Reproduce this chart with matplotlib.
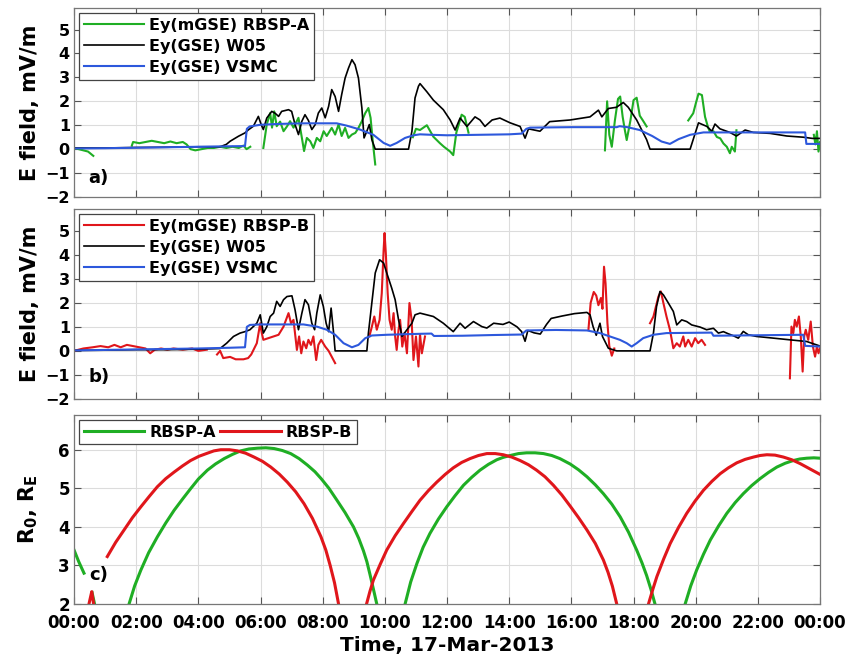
import numpy as np
import matplotlib
matplotlib.use("Agg")
import matplotlib.pyplot as plt

nan = np.nan

# ---- hours of 17-Mar-2013, tick labels
hour_ticks = list(range(0, 25, 2))
hour_labels = ['00:00', '02:00', '04:00', '06:00', '08:00', '10:00', '12:00',
               '14:00', '16:00', '18:00', '20:00', '22:00', '00:00']

# ---- panel a: RBSP-A Ey(mGSE)
a_rbsp_t = [0, 0.15, 0.3, 0.45, 0.62, nan,
            1.86, 1.9, 2.1, 2.3, 2.5, 2.7, 2.9, 3.1, 3.3, 3.5, 3.62, 3.75, 3.9, 4.1, 4.3, 4.5,
            4.7, 4.9, 5.1, 5.3, 5.45, 5.55, 5.67, nan,
            6.09, 6.2, 6.31, 6.37, 6.44, 6.52, 6.63, 6.74, 6.85, 6.95, 7.06, 7.22, 7.33, 7.4,
            7.49, 7.6, 7.7, 7.81, 7.92, 8.03, 8.13, 8.29, 8.4, 8.51, 8.61, 8.72, 8.83, 8.94,
            9.05, 9.15, 9.26, 9.37, 9.47, 9.54, 9.61, 9.69, nan,
            10.9, 11.0, 11.13, 11.35, 11.56, 11.77, 11.9, 12.0, 12.1, 12.2, 12.3, 12.47, 12.57,
            12.69, nan,
            17.08, 17.15, 17.22, 17.3, 17.4, 17.5, 17.57, 17.65, 17.72, 17.78, 17.9, 18.0, 18.1,
            18.2, 18.3, 18.42, nan,
            19.76, 19.92, 20.0, 20.09, 20.2, 20.3, 20.4, 20.46, 20.57, 20.68, 20.79, 20.89, 21.0,
            21.1, 21.16, 21.26, 21.31, nan,
            23.8, 23.85, 23.9, 23.95, 24.0]
a_rbsp_v = [0.05, 0.0, -0.05, -0.1, -0.28, nan,
            0.15, 0.3, 0.25, 0.3, 0.35, 0.3, 0.25, 0.32, 0.25, 0.3, 0.2, 0.0, -0.05, 0.0, 0.05, 0.05,
            0.1, 0.05, 0.1, 0.05, 0.15, 0.0, 0.1, nan,
            0.05, 1.03, 1.51, 0.9, 1.58, 0.96, 1.15, 0.75, 0.95, 1.17, 0.9, 1.31, 0.47, -0.08,
            0.47, 0.33, 0.05, 0.47, 0.33, 0.75, 0.55, 0.89, 0.61, 1.03, 0.55, 0.89, 0.47, 0.61,
            0.68, 0.89, 1.17, 1.51, 1.72, 1.31, 0.33, -0.64, nan,
            0.5, 0.85, 0.8, 1.0, 0.52, 0.25, 0.1, 0.0, -0.1, -0.25, 0.7, 1.44, 1.35,
            0.69, nan,
            -0.05, 2.0, 0.6, 0.1, 1.2, 2.1, 2.2, 1.35, 0.8, 0.38, 1.2, 2.05, 2.15,
            1.4, 1.2, 0.95, nan,
            1.2, 1.5, 1.9, 2.32, 2.26, 1.35, 0.9, 0.72, 0.75, 0.51, 0.45, 0.24, 0.1,
            -0.17, 0.1, -0.1, 0.79, nan,
            0.6, 0.2, 0.75, -0.1, 0.3]

# ---- panel a: W05 model
a_w05_t = [0, 1, 2, 3, 4, 4.7, 4.9, 5.02, 5.29, 5.5, 5.6, 5.77, 5.93, 6.02, 6.09, 6.2, 6.36,
           6.47, 6.58, 6.68, 6.9, 7.0, 7.11, 7.22, 7.33, 7.43, 7.54, 7.65, 7.76, 7.86, 7.97,
           8.08, 8.19, 8.29, 8.4, 8.51, 8.61, 8.72, 8.83, 8.94, 9.04, 9.15, 9.26, 9.33, 9.42,
           9.5, 9.58, 9.69, 10.76, 10.87, 10.97, 11.08, 11.13, 11.35, 11.56, 11.88, 12.1,
           12.26, 12.42, 12.64, 12.9, 13.06, 13.22, 13.45, 13.7, 14.03, 14.35, 14.51, 14.62,
           14.99, 15.3, 15.96, 16.6, 16.87, 16.98, 17.19, 17.45, 17.67, 17.83, 18.1, 18.42,
           18.53, 19.82, 20.09, 20.36, 20.52, 20.62, 20.78, 21.1, 21.31, 21.59, 21.85, 22.39,
           22.93, 23.46, 23.75, 24.0]
a_w05_v = [0.05, 0.05, 0.07, 0.08, 0.1, 0.1, 0.2, 0.33, 0.54, 0.68, 0.8, 0.96, 1.37, 1.03, 0.82,
           1.3, 1.58, 1.5, 1.37, 1.58, 1.65, 1.58, 1.03, 0.61, 1.17, 1.44, 1.2, 0.82, 1.03, 1.51,
           1.72, 1.31, 1.79, 2.49, 2.2, 1.58, 2.28, 2.97, 3.39, 3.74, 3.53, 2.97, 1.72, 0.47,
           0.75, 1.03, 0.4, 0.0, 0.0, 0.75, 2.14, 2.63, 2.74, 2.4, 2.05, 1.65, 1.22,
           0.8, 1.3, 0.95, 1.35, 1.22, 0.95, 1.22, 1.3, 1.1, 0.95, 0.46, 0.85,
           0.75, 1.15, 1.22, 1.35, 1.63, 1.35, 1.7, 1.75, 1.95, 1.75, 1.22, 0.4,
           0.0, 0.0, 1.1, 0.95, 0.75, 1.05, 0.85, 0.7, 0.55, 0.8, 0.7, 0.66,
           0.55, 0.5, 0.45, 0.45]

# ---- panel a: VSMC model
a_vsmc_t = [0, 1, 2, 3, 4, 5, 5.5, 5.56, 5.65, 6.0, 6.5, 7.0, 7.5, 8.0, 8.45, 8.78, 9.2, 9.63,
            9.96, 10.17, 10.38, 10.65, 10.92, 11.13, 11.5, 12.0, 13.0, 14.0, 14.4, 14.55, 14.67,
            16.0, 17.46, 17.55, 17.8, 18.2, 18.6, 18.9, 19.17, 19.45, 19.82, 20.25, 21.0, 22.0,
            23.0, 23.52, 23.56, 24.0]
a_vsmc_v = [0.03, 0.04, 0.06, 0.08, 0.1, 0.12, 0.13, 0.85, 0.95, 1.02, 1.05, 1.07, 1.08, 1.08,
            1.08, 0.98, 0.82, 0.6, 0.26, 0.14, 0.26, 0.47, 0.58, 0.62, 0.6, 0.58, 0.6, 0.62, 0.65,
            0.85, 0.9, 0.92, 0.92, 0.96, 0.92, 0.8, 0.55, 0.32, 0.22, 0.42, 0.6, 0.7, 0.7, 0.7,
            0.7, 0.7, 0.22, 0.22]

# ---- panel b: RBSP-B Ey(mGSE)
b_rbsp_t = [0, 0.3, 0.6, 0.85, 1.1, 1.3, 1.5, 1.7, 1.9, 2.1, 2.3, 2.45, 2.6, 2.8, 3.0, 3.2, 3.5,
            3.8, 4.0, 4.27, nan,
            4.6, 4.7, 4.8, 5.02, 5.2, 5.45, 5.6, 5.7, 5.88, 5.99, 6.04, 6.09, 6.25, 6.42, 6.58,
            6.74, 6.9, 6.98, 7.06, 7.17, 7.24, 7.31, 7.38, 7.47, 7.54, 7.62, 7.7, 7.79, 7.86,
            7.95, 8.08, 8.19, 8.29, 8.4, nan,
            9.5, 9.58, 9.66, 9.74, 9.83, 9.9, 9.96, 9.99, 10.03, 10.09, 10.15, 10.22, 10.28,
            10.33, 10.38, 10.44, 10.49, 10.56, 10.63, 10.71, 10.79, 10.86, 10.92, 11.0, 11.08,
            11.13, 11.19, 11.29, nan,
            16.55, 16.62, 16.72, 16.8, 16.87, 16.95, 17.0, 17.05, 17.1, 17.16, 17.22, 17.3,
            17.38, nan,
            18.53, 18.64, 18.8, 18.88, 18.96, 19.06, 19.17, 19.28, 19.39, 19.49, 19.6, 19.66,
            19.76, 19.87, 19.98, 20.08, 20.19, 20.3, nan,
            23.03, 23.08, 23.14, 23.19, 23.25, 23.32, 23.38, 23.44, 23.49, 23.54, 23.62, 23.7,
            23.77, 23.84, 23.9, 23.95, 24.0]
b_rbsp_v = [0.0, 0.1, 0.15, 0.2, 0.15, 0.25, 0.15, 0.25, 0.2, 0.15, 0.1, -0.1, 0.05, 0.1, 0.05,
            0.1, 0.05, 0.1, 0.0, 0.05, nan,
            -0.15, 0.0, -0.3, -0.25, -0.35, -0.35, -0.3, -0.15, 0.32, 1.15, 0.74, 0.46, 0.53,
            0.6, 0.67, 1.01, 1.57, 1.15, 1.29, 0.04, 0.6, -0.1, 0.39, 0.11, 0.46, 0.25, 0.6,
            -0.38, 0.25, 0.46, 0.18, 0.0, -0.24, -0.51, nan,
            0.6, 1.0, 1.43, 0.88, 1.29, 2.4, 4.21, 4.9, 4.07, 2.4, 1.29, 0.88, 1.57,
            0.6, 0.04, 0.88, 1.29, 0.18, 0.74, -0.1, 1.99, 1.29, -0.38, 0.6, -0.65,
            0.7, -0.1, 0.6, nan,
            0.9, 2.0, 2.45, 2.3, 1.9, 2.2, 1.75, 3.5, 2.8, 1.15, 0.2, -0.2,
            0.1, nan,
            1.15, 1.43, 2.26, 2.47, 1.99, 1.43, 0.88, 0.11, 0.32, 0.18, 0.6, 0.18,
            0.46, 0.18, 0.53, 0.32, 0.46, 0.25, nan,
            -1.14, 1.01, 0.74, 1.29, 1.01, 1.43, 0.6, -0.86, 0.6, 0.88, 0.46, 1.22,
            0.18, -0.24, 0.18, -0.1, 0.11]

# ---- panel b: W05 model
b_w05_t = [0, 1, 2, 3, 4, 4.7, 4.91, 5.13, 5.34, 5.5, 5.66, 5.88, 5.99, 6.09, 6.2, 6.31, 6.42,
           6.52, 6.63, 6.74, 6.85, 7.01, 7.11, 7.22, 7.33, 7.43, 7.54, 7.65, 7.74, 7.81, 7.92,
           8.02, 8.11, 8.19, 8.27, 8.34, 8.4, 9.0, 9.42, 9.47, 9.58, 9.69, 9.83, 9.96, 10.06,
           10.22, 10.33, 10.44, 10.55, 10.71, 10.87, 10.97, 11.13, 11.56, 11.88, 12.2, 12.42,
           12.58, 12.85, 13.12, 13.28, 13.5, 13.8, 14.0, 14.25, 14.4, 14.51, 14.6, 14.8, 15.0,
           15.2, 15.35, 15.7, 16.1, 16.5, 16.6, 16.7, 16.8, 16.92, 17.0, 17.19, 17.46, 18.53,
           18.64, 18.74, 18.85, 18.96, 19.12, 19.28, 19.39, 19.55, 19.71, 19.87, 20.14, 20.35,
           20.57, 20.73, 20.89, 21.05, 21.21, 21.37, 21.53, 21.69, 21.96, 22.5, 23.03, 23.57,
           23.89, 24.0]
b_w05_v = [0.02, 0.03, 0.05, 0.05, 0.07, 0.1, 0.32, 0.6, 0.74, 0.8, 0.88, 1.15, 1.5, 0.74, 1.0,
           1.43, 1.57, 2.06, 1.85, 2.13, 2.26, 2.29, 1.71, 0.88, 1.57, 2.13, 1.92, 1.15, 0.88,
           1.57, 2.33, 1.85, 1.15, 0.8, 1.78, 0.88, 0.0, 0.0, 0.0, 0.74, 1.99, 3.24, 3.79, 3.65,
           3.24, 2.61, 2.13, 1.29, 0.6, 0.88, 1.15, 1.5, 1.57, 1.43, 1.15, 0.8, 1.15,
           0.94, 1.22, 1.01, 0.95, 1.15, 1.1, 1.2, 1.0, 0.8, 0.4, 0.85, 0.75, 0.7,
           1.1, 1.35, 1.45, 1.55, 1.6, 1.5, 1.0, 0.65, 1.15, 0.6, 0.11, 0.0, 0.0,
           0.74, 1.85, 2.47, 2.33, 1.99, 1.64, 1.08, 1.29, 1.22, 1.08, 0.99, 0.88,
           0.94, 0.74, 0.8, 0.71, 0.63, 0.53, 0.81, 0.67, 0.6, 0.53, 0.46, 0.39,
           0.25, 0.2]

# ---- panel b: VSMC model
b_vsmc_t = [0, 1, 2, 3, 4, 5, 5.5, 5.56, 5.66, 6.0, 7.0, 7.38, 7.81, 8.13, 8.4, 8.67, 8.94,
            9.15, 9.37, 9.58, 10.06, 11.13, 11.5, 11.58, 12.5, 13.5, 14.4, 14.55, 15.5, 16.5,
            16.92, 17.24, 17.56, 17.78, 17.94, 18.1, 18.31, 18.64, 19.06, 20.51, 20.57, 23.46,
            23.52, 24.0]
b_vsmc_v = [0.02, 0.04, 0.06, 0.08, 0.1, 0.13, 0.15, 1.0, 1.08, 1.1, 1.1, 1.1, 1.01, 0.88,
            0.67, 0.32, 0.15, 0.25, 0.53, 0.64, 0.67, 0.71, 0.72, 0.62, 0.63, 0.66, 0.68, 0.85,
            0.87, 0.85, 0.74, 0.6, 0.46, 0.32, 0.18, 0.32, 0.53, 0.67, 0.74, 0.76, 0.63, 0.67,
            0.21, 0.18]

# ---- panel c: R0 of the two probes
ra_t = [0, 0.15, 0.32, nan, 0.58, 0.66, nan,
        1.77, 1.95, 2.15, 2.4, 2.68, 2.95, 3.22, 3.5, 3.75, 4.0, 4.29, 4.55, 4.83, 5.1, 5.36,
        5.63, 5.9, 6.17, 6.44, 6.7, 6.97, 7.24, 7.51, 7.75, 7.95, 8.2, 8.45, 8.72, 8.99, 9.16,
        9.31, 9.42, 9.52, 9.63, 9.74, nan,
        10.65, 10.83, 11.03, 11.23, 11.45, 11.72, 11.99, 12.26, 12.53, 12.8, 13.06, 13.33,
        13.6, 13.8, 14.03, 14.3, 14.56, 14.83, 15.1, 15.37, 15.63, 15.96, 16.23, 16.5, 16.77,
        17.03, 17.3, 17.57, 17.84, 18.1, 18.27, 18.42, 18.56, 18.69, nan,
        19.66, 19.84, 20.03, 20.25, 20.47, 20.74, 21.0, 21.27, 21.53, 21.8, 22.07, 22.34,
        22.61, 22.88, 23.14, 23.35, 23.57, 23.8, 24.0]
ra_v = [3.4, 3.1, 2.8, nan, 2.3, 2.0, nan,
        2.0, 2.47, 2.88, 3.33, 3.74, 4.1, 4.43, 4.73, 4.99, 5.24, 5.47, 5.63, 5.77, 5.88, 5.97,
        6.02, 6.04, 6.05, 6.03, 5.98, 5.9, 5.77, 5.6, 5.43, 5.25, 5.0, 4.7, 4.37, 4.0, 3.7,
        3.38, 3.1, 2.77, 2.39, 2.0, nan,
        2.0, 2.57, 3.05, 3.47, 3.83, 4.2, 4.52, 4.81, 5.08, 5.29, 5.47, 5.62,
        5.74, 5.8, 5.85, 5.9, 5.92, 5.92, 5.9, 5.85, 5.77, 5.63, 5.48, 5.3, 5.09,
        4.86, 4.59, 4.26, 3.86, 3.4, 3.07, 2.74, 2.38, 2.0, nan,
        2.0, 2.47, 2.88, 3.29, 3.66, 4.03, 4.35, 4.63, 4.86, 5.07, 5.25, 5.41,
        5.55, 5.65, 5.72, 5.76, 5.78, 5.79, 5.78]

rb_t = [0.48, 0.57, 0.63, nan,
        1.07, 1.34, 1.61, 1.88, 2.15, 2.42, 2.68, 2.95, 3.22, 3.49, 3.75, 4.02, 4.29, 4.5, 4.72,
        5.0, 5.26, 5.52, 5.79, 6.06, 6.33, 6.6, 6.86, 7.13, 7.4, 7.67, 7.94, 8.1, 8.24, 8.38,
        8.51, nan,
        9.41, 9.52, 9.63, 9.85, 10.06, 10.33, 10.6, 10.87, 11.13, 11.4, 11.67, 11.94, 12.2,
        12.47, 12.74, 13.01, 13.28, 13.55, 13.81, 14.08, 14.35, 14.62, 14.88, 15.15, 15.42,
        15.69, 15.96, 16.23, 16.5, 16.77, 17.03, 17.18, 17.32, 17.46, nan,
        18.48, 18.62, 18.75, 18.97, 19.18, 19.45, 19.71, 19.98, 20.25, 20.52, 20.79, 21.05,
        21.32, 21.59, 21.86, 22.07, 22.29, 22.55, 22.82, 23.09, 23.36, 23.68, 24.0]
rb_v = [2.0, 2.32, 2.0, nan,
        3.23, 3.6, 3.92, 4.24, 4.52, 4.79, 5.04, 5.25, 5.42, 5.58, 5.72, 5.83, 5.91, 5.97, 6.0,
        6.0, 5.97, 5.91, 5.81, 5.7, 5.55, 5.37, 5.16, 4.91, 4.6, 4.22, 3.75, 3.4, 3.0, 2.55,
        2.0, nan,
        2.0, 2.33, 2.62, 3.03, 3.4, 3.77, 4.09, 4.4, 4.69, 4.94, 5.16, 5.36, 5.53,
        5.67, 5.77, 5.85, 5.9, 5.9, 5.87, 5.81, 5.72, 5.61, 5.47, 5.3, 5.08,
        4.83, 4.54, 4.24, 3.92, 3.57, 3.14, 2.82, 2.46, 2.0, nan,
        2.0, 2.38, 2.71, 3.17, 3.57, 3.99, 4.35, 4.67, 4.95, 5.18, 5.38, 5.53,
        5.66, 5.75, 5.81, 5.85, 5.87, 5.86, 5.81, 5.74, 5.64, 5.5, 5.36]

#-------------------------------------------------------------------------------
plt.rcParams['font.family'] = 'DejaVu Sans'
plt.rcParams['font.weight'] = 'bold'
plt.rcParams['axes.labelweight'] = 'bold'
plt.rcParams['mathtext.default'] = 'bf'

c_green = '#1fae24'
c_red = '#e0161b'
c_blue = '#2d58dc'
c_grid = '#dcdcdc'

fig = plt.figure(figsize=(8.52, 6.62), dpi=100)
ax_a = fig.add_axes([0.0869, 0.7024, 0.8756, 0.2855])
ax_b = fig.add_axes([0.0869, 0.3973, 0.8756, 0.2870])
ax_c = fig.add_axes([0.0869, 0.0876, 0.8756, 0.2855])


def style_axes(ax, ymin, ymax, yticks, tick_size):
    ax.set_xlim(0, 24)
    ax.set_ylim(ymin, ymax)
    ax.set_xticks(hour_ticks)
    ax.set_yticks(yticks)
    ax.grid(True, color=c_grid, linewidth=0.8)
    ax.set_axisbelow(True)
    ax.tick_params(direction='in', top=True, right=True, length=5, width=0.8,
                   color='#555555', labelsize=tick_size, pad=3)
    ax.tick_params(axis='x', pad=7)
    for sp in ax.spines.values():
        sp.set_color('#777777')
        sp.set_linewidth(0.9)


def add_legend(ax, ncol=1):
    leg = ax.legend(loc='upper left', ncol=ncol, fontsize=11.5, frameon=True, fancybox=False,
                    borderaxespad=0.3, borderpad=0.3, labelspacing=0.38, handlelength=3.8,
                    handletextpad=0.3, columnspacing=0.3)
    leg.get_frame().set_edgecolor('#444444')
    leg.get_frame().set_linewidth(0.9)
    leg.get_frame().set_alpha(1.0)
    return leg


# ---- a)
ax_a.plot(a_rbsp_t, a_rbsp_v, color=c_green, lw=1.5, label='Ey(mGSE) RBSP-A')
ax_a.plot(a_w05_t, a_w05_v, color='k', lw=1.2, label='Ey(GSE) W05')
ax_a.plot(a_vsmc_t, a_vsmc_v, color=c_blue, lw=1.5, label='Ey(GSE) VSMC')
style_axes(ax_a, -2, 5.9, range(-2, 6), 11.5)
ax_a.set_xticklabels([])
ax_a.set_ylabel('E field, mV/m', fontsize=15)
ax_a.yaxis.set_label_coords(-0.046, 0.5)
ax_a.text(0.45, -1.2, 'a)', fontsize=13, fontweight='bold', va='center')
add_legend(ax_a)

# ---- b)
ax_b.plot(b_rbsp_t, b_rbsp_v, color=c_red, lw=1.5, label='Ey(mGSE) RBSP-B')
ax_b.plot(b_w05_t, b_w05_v, color='k', lw=1.2, label='Ey(GSE) W05')
ax_b.plot(b_vsmc_t, b_vsmc_v, color=c_blue, lw=1.5, label='Ey(GSE) VSMC')
style_axes(ax_b, -2, 5.9, range(-2, 6), 11.5)
ax_b.set_xticklabels([])
ax_b.set_ylabel('E field, mV/m', fontsize=15)
ax_b.yaxis.set_label_coords(-0.046, 0.5)
ax_b.text(0.45, -1.1, 'b)', fontsize=13, fontweight='bold', va='center')
add_legend(ax_b)

# ---- c)
ax_c.plot(ra_t, ra_v, color=c_green, lw=2.2, label='RBSP-A')
ax_c.plot(rb_t, rb_v, color=c_red, lw=2.2, label='RBSP-B')
style_axes(ax_c, 2, 6.9, range(2, 7), 12)
ax_c.set_xticklabels(hour_labels, fontsize=12)
ax_c.set_ylabel('R$_0$, R$_E$', fontsize=15)
ax_c.yaxis.set_label_coords(-0.046, 0.5)
ax_c.set_xlabel('Time, 17-Mar-2013', fontsize=14.5, labelpad=3)
ax_c.text(0.5, 2.75, 'c)', fontsize=13, fontweight='bold', va='center')
add_legend(ax_c, ncol=2)

fig.savefig('out.png', dpi=100)
